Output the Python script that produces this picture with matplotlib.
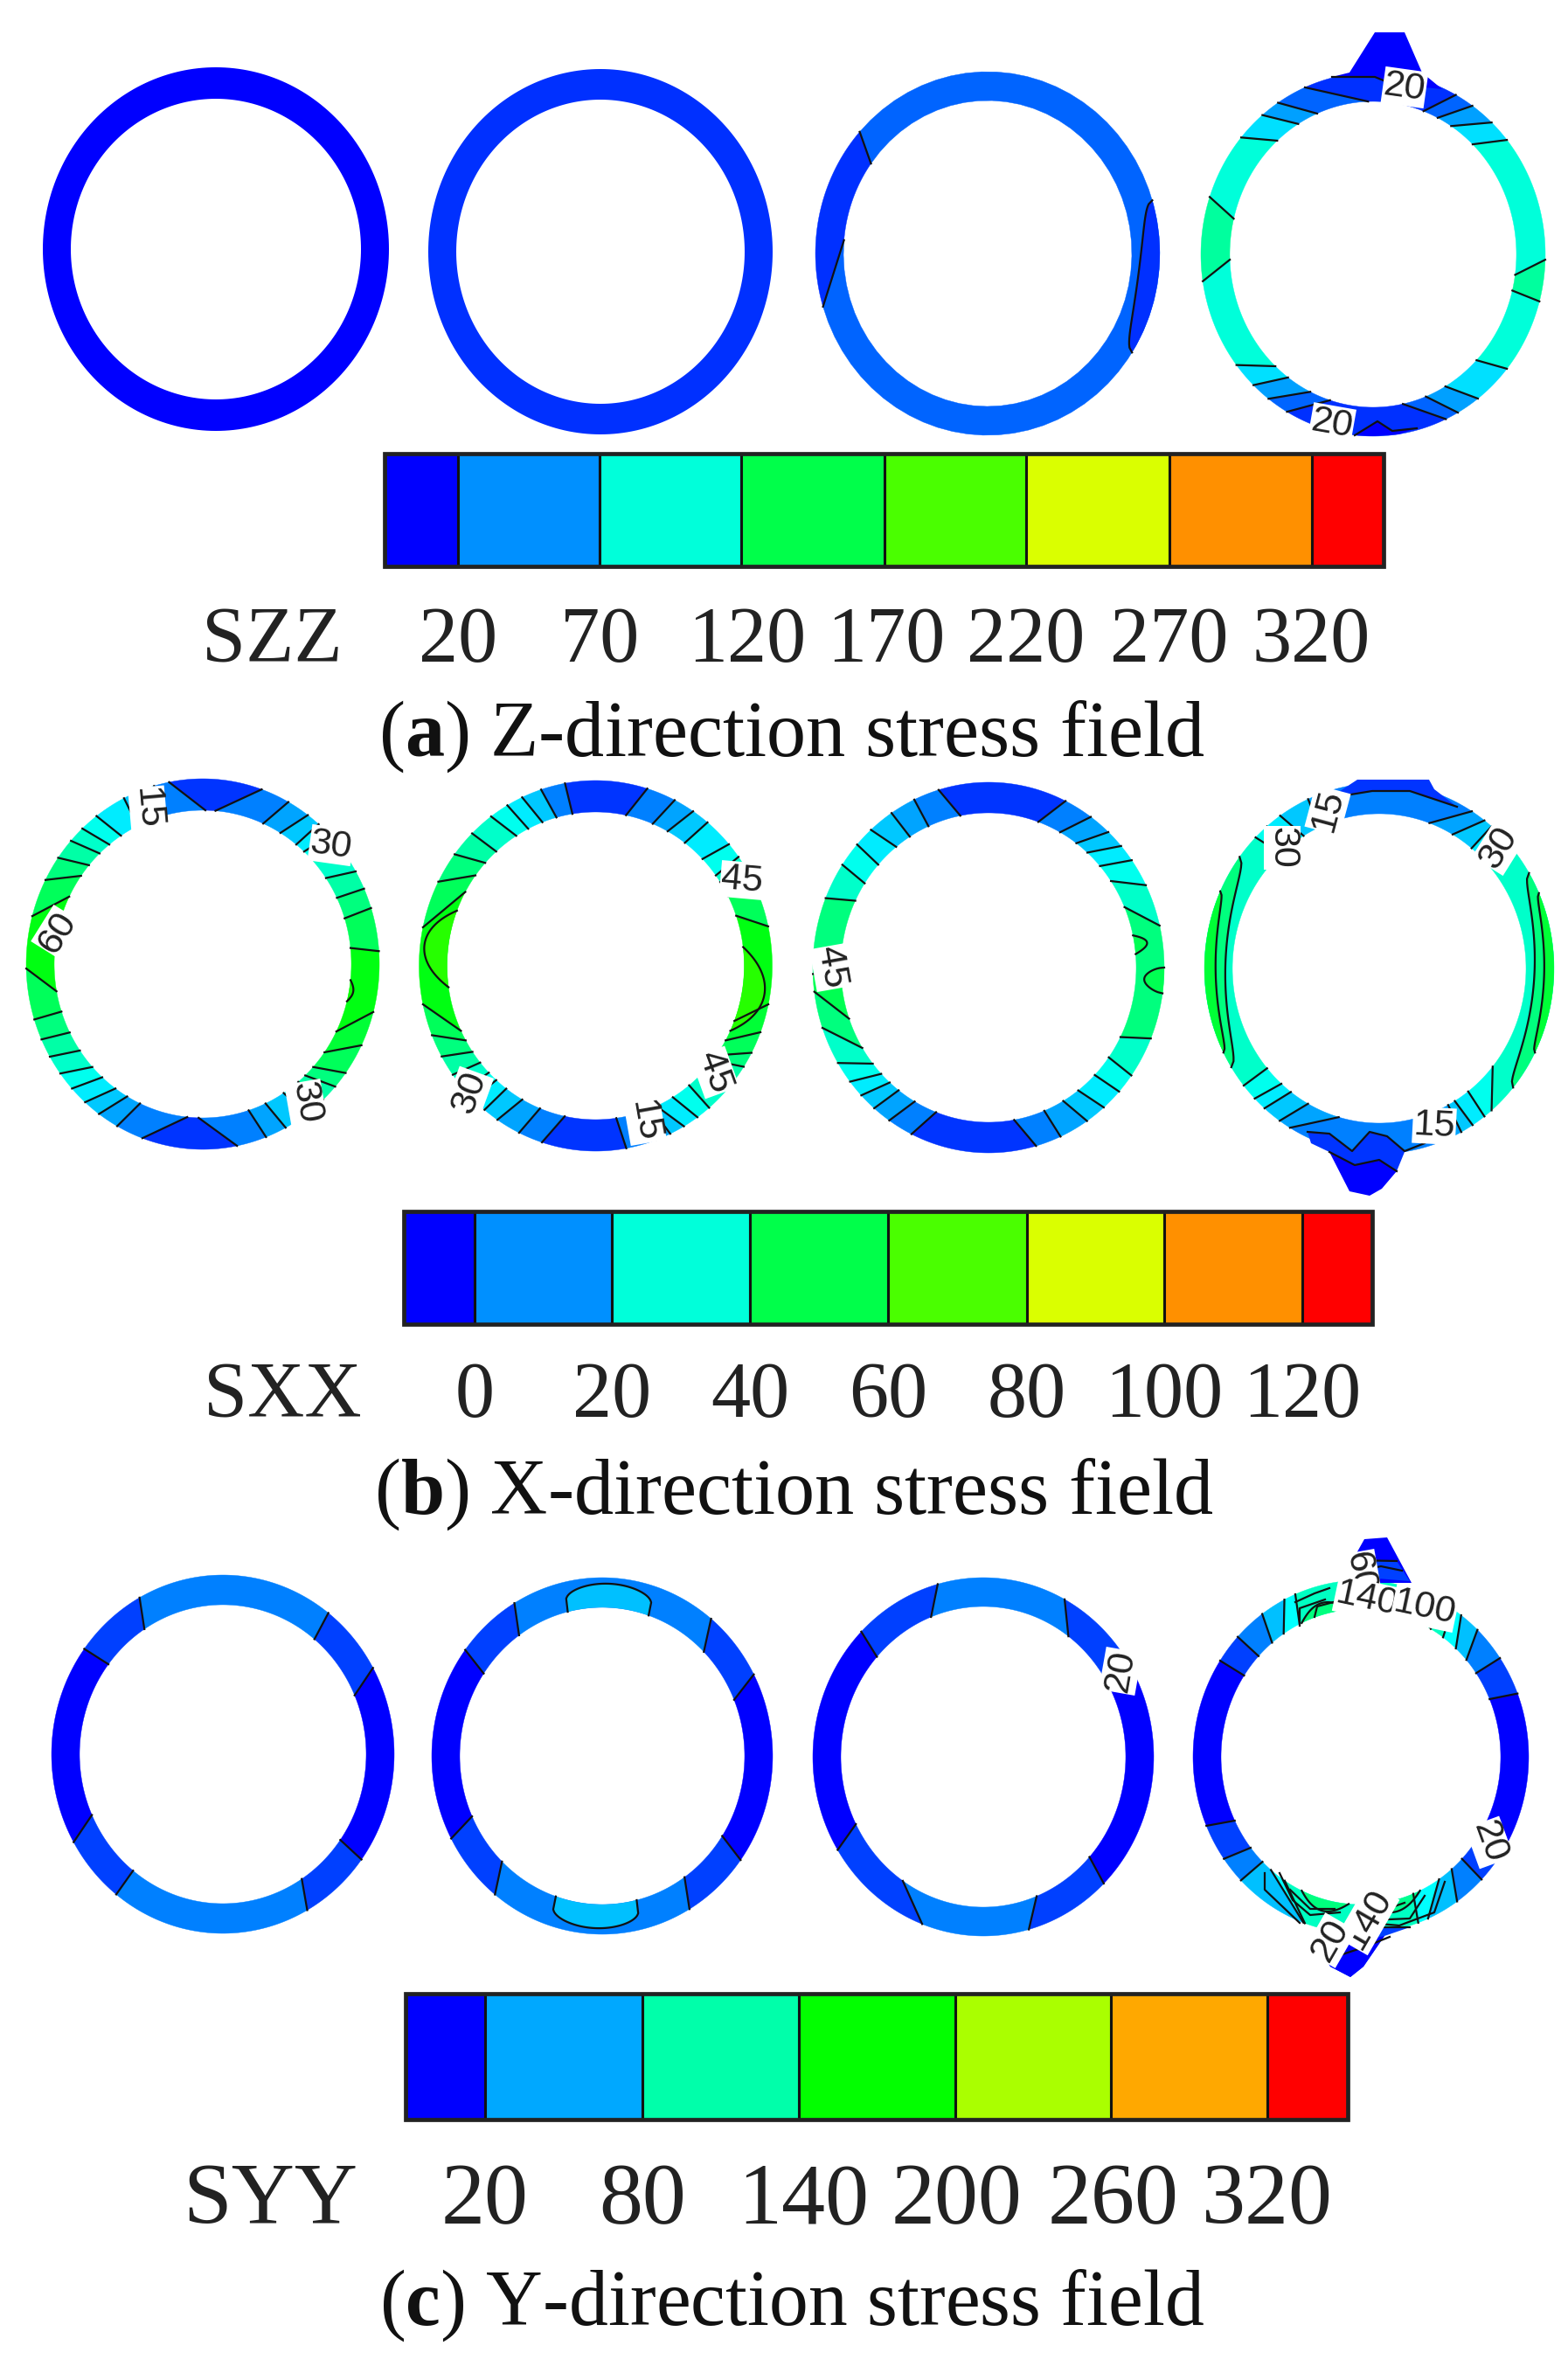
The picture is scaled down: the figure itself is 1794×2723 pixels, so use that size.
import numpy as np
import matplotlib
matplotlib.use('Agg')
import matplotlib.pyplot as plt
from matplotlib.colors import LinearSegmentedColormap, Normalize
from matplotlib.patches import Rectangle

plt.rcParams['font.family'] = ['Liberation Serif', 'DejaVu Serif']
plt.rcParams['mathtext.fontset'] = 'custom'
plt.rcParams['mathtext.bf'] = 'Liberation Serif:bold'
plt.rcParams['mathtext.rm'] = 'Liberation Serif'

# Contour bands on each ring: (angle at inner edge, angle at outer edge, stress after it)
# angles in degrees, clockwise from the top of the ring
szz_ring1 = [(0, 0, -5)]
szz_ring2 = [(0, 0, 12)]
szz_ring3 = [(275, 253, 12), (306, 312, 30)]
szz_ring4 = [(20.6, 28.7, 30), (26.8, 35.2, 50), (33, 43.5, 72), (44, 51, 95), (97.7, 91.7, 116),
             (103.7, 105, 95), (133.8, 129, 72), (149.7, 142.5, 50), (158.4, 150.5, 30), (168, 155, 12),
             (197.5, 210, 30), (206, 217.4, 50), (216.4, 224, 72), (223, 232.5, 95), (268, 261.5, 116),
             (283.5, 288.4, 95), (318, 310, 72), (328.5, 320, 50), (337, 326.5, 30), (358, 336.7, 12)]

sxx_ring1 = [(4.9, 19.5, 7.5), (24, 29, 12.5), (31.5, 36.5, 17.5), (39, 41, 22.5), (43, 46, 27.5),
             (47, 53.8, 32.5), (56, 60, 37.5), (64.5, 66, 42.5), (72.7, 72.4, 47.5), (84, 86, 57.5),
             (116, 105, 52.5), (125, 116, 47.5), (132, 126, 42.5), (136.4, 131.4, 37.5), (140, 137, 27.5),
             (147, 144, 17.5), (155, 152, 12.5), (162, 159, 7.5), (181.6, 168.8, -2.5), (186, 200, 7.5),
             (205, 209, 12.5), (210.6, 216, 17.5), (216, 221.8, 22.5), (222.6, 227.8, 27.5), (228, 233.8, 32.5),
             (235.8, 240, 37.5), (243.6, 246, 42.5), (252, 252.6, 47.5), (259.8, 268.6, 57.5), (296, 285, 47.5),
             (305, 297, 42.5), (310, 305, 37.5), (316, 311.7, 32.5), (321, 317, 27.5), (326.6, 323, 22.5),
             (334, 333.5, 17.5), (344, 344, 7.5), (361, 349, -2.5)]
sxx_ring2 = [(11.8, 17, 7.5), (22.6, 26.6, 12.5), (29, 33.5, 17.5), (36.9, 39.3, 22.5), (46, 49, 27.5),
             (54, 54, 32.5), (57, 57, 37.5), (63, 67, 47.5), (71, 77.7, 57.5), (111, 102, 52.5),
             (119, 111, 47.5), (125.6, 118, 42.5), (128, 123, 37.5), (132, 130, 32.5), (141, 140, 27.5),
             (148.7, 144.8, 22.5), (155.8, 150, 17.5), (158, 155, 12.5), (161, 160, 7.5), (172, 170, -2.5),
             (192, 197.7, 7.5), (202, 205.7, 12.5), (209.6, 213.8, 17.5), (217, 219, 22.5), (222, 224, 27.5),
             (226, 228, 32.5), (231, 234, 37.5), (236, 240.7, 42.5), (241, 248, 47.5), (245, 258, 57.5),
             (298.7, 282, 47.5), (306, 297, 42.5), (312, 307, 37.5), (318, 315.6, 32.5), (327.7, 323.7, 27.5),
             (333, 330, 22.5), (339, 335.4, 17.5), (344.7, 342, 7.5), (351, 350, -2.5)]
sxx_ring3 = [(19.7, 26, 7.5), (29, 35.6, 12.5), (36.5, 43, 17.5), (42, 49, 22.5), (49, 54.6, 27.5),
             (56, 63.6, 32.5), (67, 76.9, 42.5), (116.7, 112.5, 32.5), (125.5, 125.6, 27.5), (134, 132, 22.5),
             (142.6, 139, 17.5), (149.6, 145.9, 12.5), (157.8, 155.8, 7.5), (170, 164.3, -2.5), (200.8, 206, 7.5),
             (210, 214.4, 12.5), (217.5, 220.6, 17.5), (222, 226.4, 22.5), (226.6, 232, 27.5), (231.6, 239, 32.5),
             (238.7, 251, 42.5), (250.7, 262.5, 49), (268, 268, 42.5), (295.6, 292, 32.5), (303, 303.7, 27.5),
             (311.7, 311.6, 22.5), (321.3, 318, 17.5), (327.8, 326.5, 12.5), (336, 335, 7.5), (349, 343.5, -2.5)]
sxx_ring4 = [(20, 32, 12.5), (30, 37, 17.5), (39, 40, 22.5), (42, 43, 27.5), (47, 47, 32.5),
             (129.4, 140, 27.5), (142.7, 143, 22.5), (149, 147.7, 17.5), (152, 152, 12.5), (158, 158, 7.5),
             (196, 210.7, 12.5), (209, 214.7, 17.5), (217, 221, 22.5), (221.8, 225.4, 27.5), (229.8, 230.8, 32.5),
             (318, 315, 27.5), (322, 320, 22.5), (329, 325.5, 17.5), (336, 336, 12.5), (342, 342, 7.5)]

syy_ring1 = [(39.7, 38, 12.5), (66.8, 61.2, -10), (125, 126, 12.5), (146.6, 150.5, 35),
             (218.8, 218.5, 12.5), (246, 240.6, -10), (307, 306, 12.5), (326.8, 330.9, 35)]
syy_ring2 = [(45.5, 39.7, 12.5), (67.8, 62.8, -10), (122.6, 125.7, 12.5), (144.7, 149.2, 35),
             (224.7, 219, 12.5), (246, 242.4, -10), (303.7, 306.5, 12.5), (324.3, 329, 35)]
syy_ring3 = [(36.7, 28.5, 12.5), (61, 61, -10), (131.8, 135, 12.5), (158, 164.5, 35),
             (214.4, 201, 12.5), (243.4, 238.7, -10), (311.7, 314.3, 12.5), (338.5, 344.5, 35)]
syy_ring4 = [(36, 33, 80), (42.8, 36.7, 57.5), (49, 44, 35), (55.5, 56, 12.5), (67, 69, -10),
             (120, 120, 12.5), (133.7, 134, 35), (139.5, 145, 57.5), (146, 156.4, 80), (158, 160, 102),
             (213, 199.5, 80), (220, 200, 57.5), (224.7, 225.6, 35), (232, 234.7, 12.5), (244.4, 247, -10),
             (303.4, 303, 12.5), (313, 312.8, 35), (320.6, 324, 57.5), (326.5, 332.9, 80), (334, 337, 102)]

# Closed islands inside a ring: (start angle, end angle, depth across the ring, stress, edge it grows from)
szz_islands3 = [(73, 123, 0.72, 12, 'outer')]
sxx_islands1 = [(96, 104, 0.15, 62, 'inner')]
sxx_islands2 = [(83, 115, 0.8, 65, 'inner'), (262, 291, 0.85, 65, 'inner')]
sxx_islands3 = [(78, 85, 0.45, 49, 'inner'), (90, 98, 0.7, 49, 'outer')]
sxx_islands4 = [(59, 130, 0.7, 42.5, 'outer'), (66, 117, 0.35, 52.5, 'outer'),
                (237.8, 307, 0.75, 42.5, 'outer'), (243, 294.6, 0.4, 52.5, 'outer')]
syy_islands2 = [(346, 379, 0.8, 57.5, 'flat'), (166, 199, 0.8, 57.5, 'flat')]
syy_islands4 = [(335, 355, 0.4, 125, 'inner'), (10, 30, 0.4, 125, 'inner'), (155, 178, 0.4, 120, 'inner'),
                (185, 205, 0.4, 125, 'inner')]

# Stress concentration at the load points: (x, y, stress, contour x, contour y)
szz_tips4 = [([1524, 1544, 1573, 1607, 1627, 1650, 1630, 1600, 1573], [88, 83, 37, 37, 83, 102, 100, 95, 88], -5,
              [1524, 1573, 1590], [88, 88, 95]),
             ([1550, 1576, 1593, 1621, 1600, 1570], [498, 482, 493, 490, 497, 499], -5,
              [1550, 1576, 1593, 1621], [498, 482, 493, 490])]
sxx_tips4 = [([1521, 1553, 1635, 1641, 1667, 1613, 1570], [913, 892, 892, 903, 923, 905, 905], -2.5,
              [1521, 1570, 1613, 1667], [913, 905, 905, 923]),
             ([1496, 1521, 1547, 1567, 1587, 1607, 1630, 1607, 1598, 1578, 1550, 1521, 1500],
              [1295, 1297, 1317, 1295, 1300, 1317, 1308, 1318, 1340, 1327, 1333, 1318, 1308], -2.5,
              [1496, 1521, 1547, 1567, 1587, 1607, 1630], [1295, 1297, 1317, 1295, 1300, 1317, 1308]),
             ([1598, 1581, 1567, 1544, 1521, 1550, 1578], [1340, 1360, 1368, 1363, 1318, 1333, 1327], -10,
              [1521, 1550, 1578, 1598], [1318, 1333, 1327, 1340])]
syy_tips4 = [([1533, 1561, 1587, 1615], [1811, 1761, 1759, 1811], -10, [1550, 1598], [1785, 1786]),
             ([1550, 1598, 1613, 1564], [1785, 1786, 1809, 1805], 12.5, [1556, 1580, 1604], [1797, 1792, 1797]),
             ([1510, 1561, 1613, 1584, 1560, 1545, 1522], [2224, 2205, 2205, 2215, 2250, 2262, 2250], 12.5,
              [1527, 1561, 1613], [2222, 2205, 2205]),
             ([1510, 1584, 1560, 1545, 1522], [2230, 2215, 2250, 2262, 2250], -10, [1524, 1560, 1590], [2240, 2228, 2216])]
# Bunched contours near the load points on the last SYY ring: (x, y)
syy_bunched4 = [([1482, 1504, 1521], [1833, 1823, 1817]), ([1487, 1487, 1516], [1860, 1840, 1830]),
                ([1504, 1507, 1533], [1850, 1838, 1831]),
                ([1464, 1479, 1499, 1533], [2143, 2174, 2191, 2188]), ([1447, 1447, 1487], [2143, 2162, 2200]),
                ([1476, 1499, 1527], [2162, 2184, 2184]),
                ([1653, 1641, 1601, 1578, 1556, 1533], [2153, 2188, 2203, 2201, 2213, 2222]),
                ([1630, 1613, 1589, 1573, 1550], [2169, 2195, 2196, 2195, 2208]),
                ([1607, 1587], [2177, 2184])]

# Colour bar levels and tick labels
szz_ticks = ['20', '70', '120', '170', '220', '270', '320']
sxx_ticks = ['0', '20', '40', '60', '80', '100', '120']
syy_ticks = ['20', '80', '140', '200', '260', '320']
szz_range = (-5, 345)
sxx_range = (-10, 130)
syy_range = (-10, 350)
szz_nbands = 8
sxx_nbands = 8
syy_nbands = 7

# Contour labels: (text, x, y, rotation)
szz_labels = [[], [], [], [('20', 1607, 100, -8), ('20', 1524, 485, -10)]]
sxx_labels = [[('15', 169, 925, -85), ('30', 379, 967, -8), ('30', 350, 1262, -80), ('60', 66, 1067, 58)],
              [('45', 849, 1007, -5), ('45', 818, 1227, -70), ('15', 738, 1283, -80), ('30', 537, 1250, 70)],
              [('45', 951, 1107, -80)],
              [('15', 1519, 927, 75), ('30', 1467, 970, -90), ('30', 1715, 970, 58), ('15', 1641, 1288, -3)]]
syy_labels = [[], [], [('20', 1282, 1912, 80)],
              [('60', 1556, 1800, -80), ('140', 1564, 1830, -12), ('100', 1630, 1840, -12),
               ('20', 1704, 2108, -70), ('140', 1565, 2195, 60), ('20', 1522, 2220, 60)]]

# Layout in reference pixels: ring centre x, centre y, x radius, y radius, wall x, wall y
szz_geom = [(247, 285, 198, 208, 32, 36), (687, 288, 197, 209, 32, 35),
            (1130, 290, 197, 208, 32, 33), (1571, 291, 197, 208, 33, 33)]
sxx_geom = [(232, 1103, 202, 212, 32, 36), (681.5, 1105, 202, 212, 32, 36),
            (1131, 1107, 201, 212, 32, 35), (1578, 1108, 200, 212, 32, 35)]
syy_geom = [(255, 2007, 196, 205, 32, 34), (689, 2009, 195, 204, 32, 34),
            (1125, 2010, 195, 205, 32, 33), (1557, 2010, 192, 202, 32, 33)]
szz_edges = [440, 524, 686, 847.5, 1012, 1174, 1338, 1501, 1583]
sxx_edges = [462, 543, 700, 858, 1016, 1175, 1332, 1490, 1570]
syy_edges = [464, 555, 735, 914, 1092.5, 1271, 1450, 1542]

rainbow = LinearSegmentedColormap.from_list('rainbow4', ['#0000ff', '#00ffff', '#00ff00', '#ffff00', '#ff0000'])
contour_lw = 1.6


def ring_point(geom, angle, s):
    # s = 0 on the outer edge, s = 1 on the inner edge
    cx, cy, rx, ry, wx, wy = geom
    t = np.radians(angle)
    return cx + (rx - s * wx) * np.sin(t), cy - (ry - s * wy) * np.cos(t)


def draw_ring(ax, geom, bands, islands, tips, labels, norm, bunched=()):
    if len(bands) == 1:
        t = np.linspace(0, 360, 241)
        xo, yo = ring_point(geom, t, 0)
        xi, yi = ring_point(geom, t[::-1], 1)
        ax.fill(np.r_[xo, xi], np.r_[yo, yi], color=rainbow(norm(bands[0][2])), lw=0, zorder=2)
    else:
        for i, (a_in, a_out, val) in enumerate(bands):
            next_in, next_out, _ = bands[(i + 1) % len(bands)]
            d_in = (next_in - a_in) % 360
            d_out = (next_out - a_out) % 360
            d_in = 0 if d_in > 350 else d_in
            d_out = 0 if d_out > 350 else d_out
            xo, yo = ring_point(geom, np.linspace(a_out, a_out + d_out, 60), 0)
            xi, yi = ring_point(geom, np.linspace(a_in + d_in, a_in, 60), 1)
            ax.fill(np.r_[xo, xi], np.r_[yo, yi], color=rainbow(norm(val)), ec=rainbow(norm(val)), lw=0.3, zorder=2)
        for a_in, a_out, val in bands:
            x0, y0 = ring_point(geom, a_in, 1)
            x1, y1 = ring_point(geom, a_out, 0)
            ax.plot([x0, x1], [y0, y1], color='#111111', lw=contour_lw, zorder=4)
    for a0, a1, depth, val, side in islands:
        t = np.linspace(a0, a1, 60)
        bulge = np.sin(np.pi * (t - a0) / (a1 - a0))
        if side == 'outer':
            s = bulge ** 0.5 * depth
        elif side == 'flat':
            s = 1 - bulge ** 0.2 * depth
        else:
            s = 1 - bulge * depth
        base = 0 if side == 'outer' else 1
        xc, yc = ring_point(geom, t, s)
        xb, yb = ring_point(geom, t[::-1], base)
        ax.fill(np.r_[xc, xb], np.r_[yc, yb], color=rainbow(norm(val)), lw=0, zorder=3)
        ax.plot(xc, yc, color='#111111', lw=contour_lw, zorder=4)
    for xs, ys, val, cx, cy in tips:
        ax.fill(xs, ys, color=rainbow(norm(val)), lw=0, zorder=3)
        ax.plot(cx, cy, color='#111111', lw=contour_lw, zorder=4)
    for xs, ys in bunched:
        ax.plot(xs, ys, color='#111111', lw=contour_lw, zorder=4)
    for txt, x, y, rot in labels:
        ax.text(x, y, txt, fontsize=31, family='Liberation Sans', rotation=rot, ha='center', va='center',
                color='#222222', zorder=6, bbox=dict(fc='white', ec='none', pad=0.5))


def draw_bar(ax, edges, nbands, y0, y1, ticks, vrange, name, name_x, tick_xs, tick_y, size):
    norm = Normalize(*vrange)
    for i in range(nbands):
        val = vrange[0] + (vrange[1] - vrange[0]) * i / (nbands - 1)
        ax.add_patch(Rectangle((edges[i], y0), edges[i + 1] - edges[i], y1 - y0,
                               fc=rainbow(norm(val)), ec='#111111', lw=2.2, zorder=2))
    ax.add_patch(Rectangle((edges[0], y0), edges[-1] - edges[0], y1 - y0, fc='none', ec='#222222', lw=3.4, zorder=3))
    ax.text(name_x, tick_y, name, fontsize=size, ha='center', va='center', color='#222222')
    for x, txt in zip(tick_xs, ticks):
        ax.text(x, tick_y, txt, fontsize=size, ha='center', va='center', color='#222222')


fig = plt.figure(figsize=(17.94, 27.23), dpi=100)
ax = fig.add_axes([0, 0, 1, 1])
ax.set_xlim(0, 1794)
ax.set_ylim(2723, 0)
ax.axis('off')

norm = Normalize(*szz_range)
draw_ring(ax, szz_geom[0], szz_ring1, [], [], szz_labels[0], norm)
draw_ring(ax, szz_geom[1], szz_ring2, [], [], szz_labels[1], norm)
draw_ring(ax, szz_geom[2], szz_ring3, szz_islands3, [], szz_labels[2], norm)
draw_ring(ax, szz_geom[3], szz_ring4, [], szz_tips4, szz_labels[3], norm)

norm = Normalize(*sxx_range)
draw_ring(ax, sxx_geom[0], sxx_ring1, sxx_islands1, [], sxx_labels[0], norm)
draw_ring(ax, sxx_geom[1], sxx_ring2, sxx_islands2, [], sxx_labels[1], norm)
draw_ring(ax, sxx_geom[2], sxx_ring3, sxx_islands3, [], sxx_labels[2], norm)
draw_ring(ax, sxx_geom[3], sxx_ring4, sxx_islands4, sxx_tips4, sxx_labels[3], norm)

norm = Normalize(*syy_range)
draw_ring(ax, syy_geom[0], syy_ring1, [], [], syy_labels[0], norm)
draw_ring(ax, syy_geom[1], syy_ring2, syy_islands2, [], syy_labels[1], norm)
draw_ring(ax, syy_geom[2], syy_ring3, [], [], syy_labels[2], norm)
draw_ring(ax, syy_geom[3], syy_ring4, syy_islands4, syy_tips4, syy_labels[3], norm, syy_bunched4)

draw_bar(ax, szz_edges, szz_nbands, 519, 648, szz_ticks, szz_range, 'SZZ', 311,
         [524, 686, 855, 1014, 1174, 1338, 1500], 735, 65)
draw_bar(ax, sxx_edges, sxx_nbands, 1386, 1515, sxx_ticks, sxx_range, 'SXX', 323,
         [543, 700, 858, 1016, 1175, 1332, 1490], 1599, 65)
draw_bar(ax, syy_edges, syy_nbands, 2281, 2425, syy_ticks, syy_range, 'SYY', 309,
         [555, 735, 919, 1095, 1274, 1450], 2519, 72)

ax.text(906, 865, r'($\mathbf{a}$) Z-direction stress field', fontsize=65, ha='center', va='baseline', color='#111111')
ax.text(908, 1732, r'($\mathbf{b}$) X-direction stress field', fontsize=65, ha='center', va='baseline', color='#111111')
ax.text(906, 2660, r'($\mathbf{c}$) Y-direction stress field', fontsize=64.5, ha='center', va='baseline', color='#111111')

fig.savefig('out.png', dpi=100)
